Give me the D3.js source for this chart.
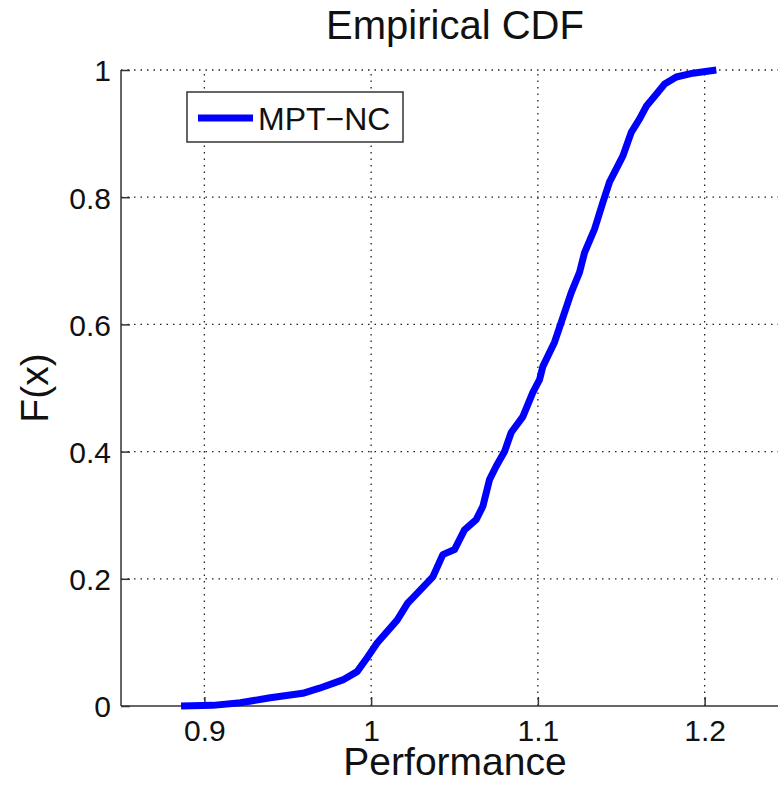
<!DOCTYPE html>
<html>
<head>
<meta charset="utf-8">
<script src="https://cdn.jsdelivr.net/npm/d3@7"></script>
<style>
  body { margin: 0; background: #fff; }
  text { font-family: "Liberation Sans", Arial, sans-serif; }
</style>
</head>
<body>
<svg id="chart" width="778" height="786"></svg>
<script>
// empirical CDF
const perf = [0.886, 0.905, 0.9216, 0.9395, 0.959, 0.969, 0.983, 0.9916, 0.9976, 1.0036, 1.0156, 1.022,
  1.025, 1.037, 1.043, 1.050, 1.056, 1.063, 1.067, 1.071, 1.075, 1.080, 1.084, 1.091, 1.097, 1.101,
  1.103, 1.110, 1.114, 1.120, 1.125, 1.128, 1.134, 1.139, 1.143, 1.151, 1.156, 1.161, 1.165, 1.171,
  1.176, 1.183, 1.193, 1.207]
const cdf = [0, 0.001, 0.005, 0.013, 0.02, 0.028, 0.041, 0.054, 0.076, 0.099, 0.135, 0.162,
  0.170, 0.203, 0.238, 0.246, 0.277, 0.293, 0.314, 0.356, 0.377, 0.40, 0.43, 0.455, 0.493, 0.513,
  0.534, 0.572, 0.603, 0.650, 0.682, 0.713, 0.750, 0.792, 0.824, 0.865, 0.902, 0.923, 0.943, 0.962,
  0.978, 0.989, 0.995, 1]
const xTicks = [0.9, 1, 1.1, 1.2]
const yTicks = [0, 0.2, 0.4, 0.6, 0.8, 1]
const seriesName = 'MPT\u2212NC'

const svg = d3.select('#chart')
const mLeft = 121, mRight = 788, mTop = 70, mBottom = 706

let x = d3.scaleLinear().domain([0.85, 1.25]).range([mLeft, mRight])
let y = d3.scaleLinear().domain([0, 1]).range([mBottom, mTop])

// grid
svg.append('g')
  .selectAll('line')
  .data(xTicks)
  .enter()
  .append('line')
  .attr('x1', (d) => x(d)).attr('x2', (d) => x(d))
  .attr('y1', mBottom).attr('y2', mTop)
  .attr('stroke', '#222')
  .style('stroke-dasharray', '1.5,5')
  .style('stroke-width', 1.3)

svg.append('g')
  .selectAll('line')
  .data(yTicks.filter((d) => d > 0))
  .enter()
  .append('line')
  .attr('x1', mLeft).attr('x2', mRight)
  .attr('y1', (d) => y(d)).attr('y2', (d) => y(d))
  .attr('stroke', '#222')
  .style('stroke-dasharray', '1.5,5')
  .style('stroke-width', 1.3)

// axes, ticks point inward
let xAxis = d3.axisBottom(x).tickValues(xTicks).tickSize(-9).tickPadding(14).tickFormat((d) => d3.format('')(d))
let yAxis = d3.axisLeft(y).tickValues(yTicks).tickSize(-9).tickPadding(10).tickFormat((d) => d3.format('')(d))

let gx = svg.append('g').attr('transform', `translate(0,${mBottom})`).call(xAxis)
let gy = svg.append('g').attr('transform', `translate(${mLeft},0)`).call(yAxis)

for (const g of [gx, gy]) {
  g.select('.domain').attr('stroke', '#333').style('stroke-width', 1.5)
  g.selectAll('.tick line').attr('stroke', '#333').style('stroke-width', 1.5)
  g.selectAll('.tick text').attr('fill', '#111').style('font-size', '30px')
}
gx.select('.domain').attr('d', `M${mLeft},0H${mRight}`)
gy.select('.domain').attr('d', `M0,${mBottom}V${mTop}`)
gy.selectAll('.tick text').attr('dy', '0.36em')

// the CDF line
svg.append('path')
  .datum(d3.zip(perf, cdf))
  .attr('d', d3.line().x((d) => x(d[0])).y((d) => y(d[1])))
  .attr('stroke', '#0000ff')
  .style('stroke-width', 7)
  .style('fill', 'none')
  .style('stroke-linejoin', 'round')

// legend
let legend = svg.append('g').attr('id', 'legend')
legend.append('rect')
  .attr('x', 187).attr('y', 92).attr('width', 216).attr('height', 50)
  .attr('fill', '#fff').attr('stroke', '#333').style('stroke-width', 1.5)
legend.append('line')
  .attr('x1', 198).attr('x2', 253).attr('y1', 118).attr('y2', 118)
  .attr('stroke', '#0000ff').style('stroke-width', 7)
legend.append('text')
  .attr('x', 258).attr('y', 130)
  .style('font-size', '32px').attr('fill', '#111')
  .text(seriesName)

// titles
svg.append('text')
  .attr('x', 455).attr('y', 39)
  .attr('text-anchor', 'middle')
  .style('font-size', '40px').attr('fill', '#111')
  .text('Empirical CDF')

svg.append('text')
  .attr('x', 455).attr('y', 775)
  .attr('text-anchor', 'middle')
  .style('font-size', '39px').attr('fill', '#111')
  .text('Performance')

svg.append('text')
  .attr('transform', 'translate(48,388) rotate(-90)')
  .attr('text-anchor', 'middle')
  .style('font-size', '39px').attr('fill', '#111')
  .text('F(x)')
</script>
</body>
</html>
